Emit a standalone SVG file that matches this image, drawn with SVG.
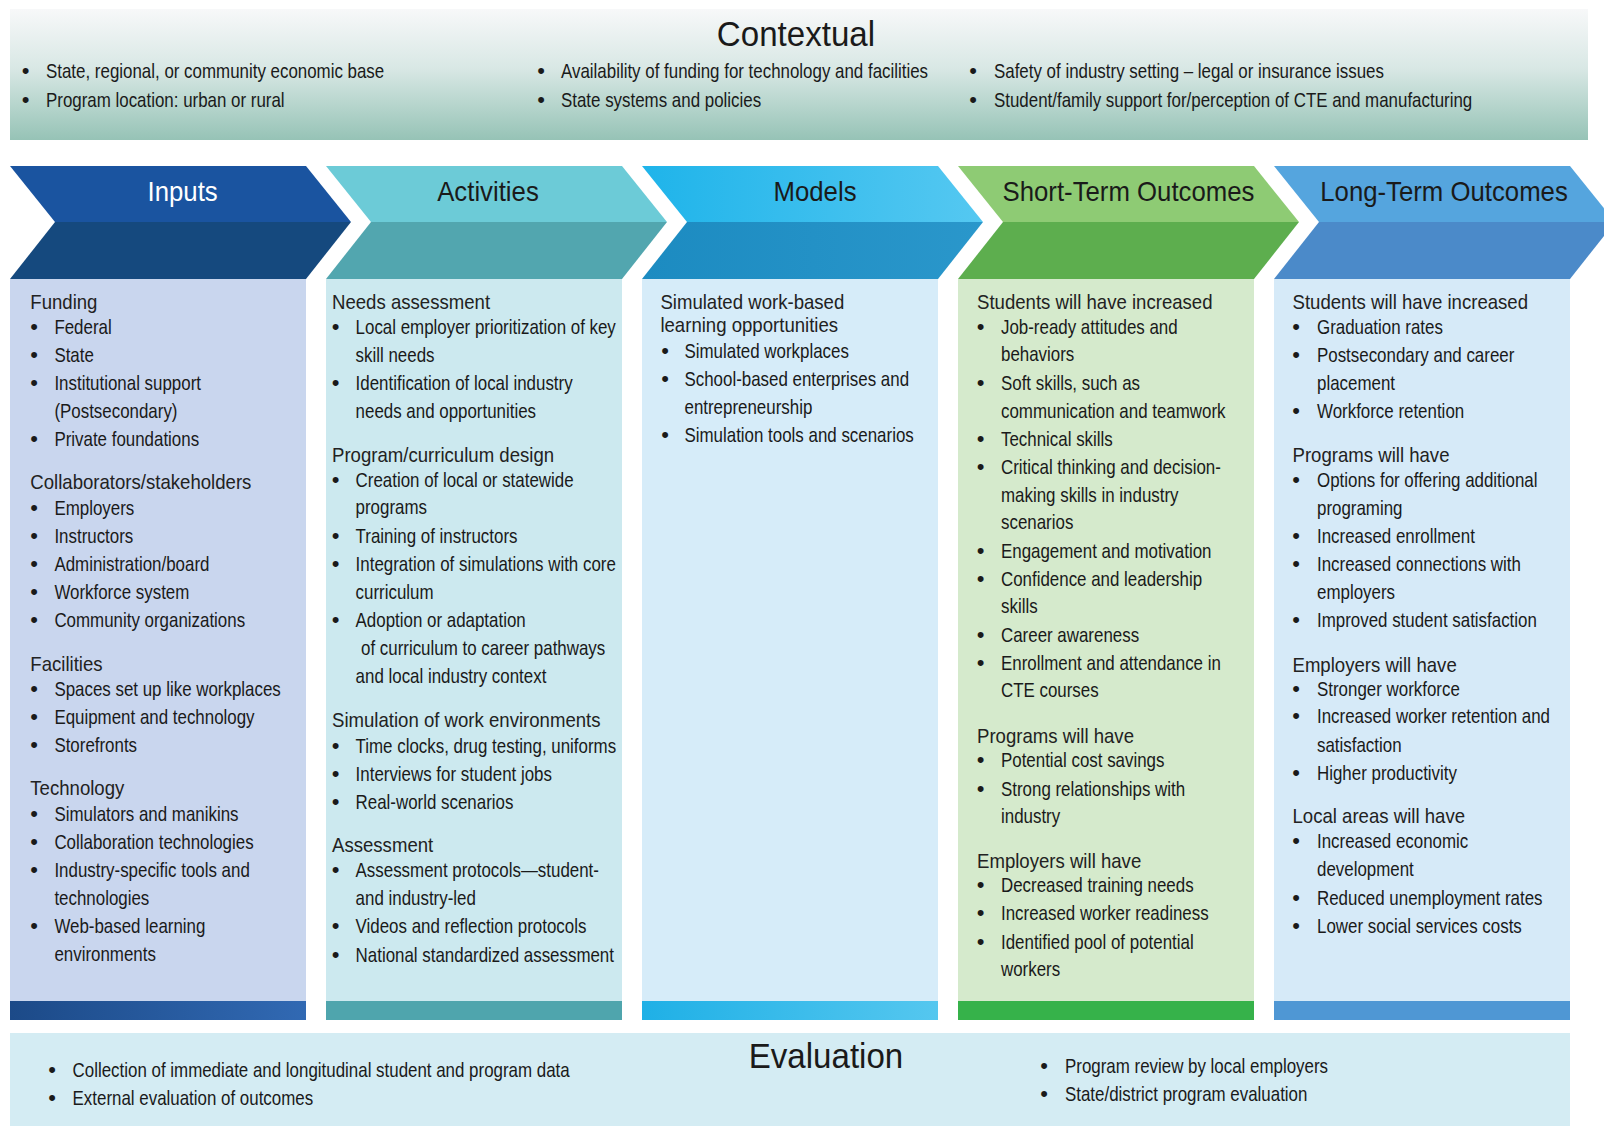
<svg xmlns="http://www.w3.org/2000/svg" width="1604" height="1126" viewBox="0 0 1604 1126">
<defs>
<linearGradient id="gCtx" x1="0" y1="0" x2="0" y2="1">
<stop offset="0" stop-color="#f7f8f9"/><stop offset="0.45" stop-color="#d9e8e5"/><stop offset="1" stop-color="#96c3b6"/>
</linearGradient>
<linearGradient id="gBarIn" x1="0" y1="0" x2="1" y2="0"><stop offset="0" stop-color="#1c4a88"/><stop offset="1" stop-color="#3169b3"/></linearGradient>
<linearGradient id="gBarMo" x1="0" y1="0" x2="1" y2="0"><stop offset="0" stop-color="#1fb0e6"/><stop offset="1" stop-color="#55c7ef"/></linearGradient>
<linearGradient id="gMoTop" x1="0" y1="0" x2="1" y2="0"><stop offset="0" stop-color="#1fb4ea"/><stop offset="1" stop-color="#55c8f1"/></linearGradient>
<linearGradient id="gMoBot" x1="0" y1="0" x2="1" y2="0"><stop offset="0" stop-color="#1c8bc1"/><stop offset="1" stop-color="#2a97cb"/></linearGradient>
</defs>
<style>
text{font-family:"Liberation Sans",Arial,sans-serif;fill:#1a1a1a}
.b text{font-size:20.5px}
.h text{font-size:20px;fill:#222}
.d text{font-size:22px;text-anchor:middle}
.ti{font-size:28px;text-anchor:middle}
.big{font-size:36px;text-anchor:middle}
</style>

<g id="contextual">
<rect x="10" y="9" width="1578" height="131" fill="url(#gCtx)"/>
<text class="big" transform="scale(0.92,1)" x="865.2" y="46">Contextual</text>
<g class="d"><text x="25.5" y="78">•</text><text x="25.5" y="107">•</text><text x="541" y="78">•</text><text x="541" y="107">•</text><text x="973" y="78">•</text><text x="973" y="107">•</text></g>
<g class="b" transform="scale(0.825,1)">
<text x="55.76" y="78">State, regional, or community economic base</text>
<text x="55.76" y="107">Program location: urban or rural</text>
<text x="680" y="78">Availability of funding for technology and facilities</text>
<text x="680" y="107">State systems and policies</text>
<text x="1204.85" y="78">Safety of industry setting – legal or insurance issues</text>
<text x="1204.85" y="107">Student/family support for/perception of CTE and manufacturing</text>
</g>
</g>

<g id="inputs">
<path d="M10,166 H306 L351,222 H55 Z" fill="#1a54a0"/>
<path d="M55,222 H351 L306,279 H10 Z" fill="#15497e"/>
<rect x="10" y="279" width="296" height="722" fill="#c9d6ee"/>
<rect x="10" y="1001" width="296" height="19" fill="url(#gBarIn)"/>
<text class="ti" transform="scale(0.92,1)" x="198.5" y="201" style="fill:#ffffff">Inputs</text>
<g class="h" transform="scale(0.93,1)">
<text x="32.58" y="309">Funding</text>
<text x="32.58" y="489">Collaborators/stakeholders</text>
<text x="32.58" y="671">Facilities</text>
<text x="32.58" y="795">Technology</text>
</g>
<g class="d"><text x="34" y="334">•</text><text x="34" y="362">•</text><text x="34" y="390">•</text><text x="34" y="446">•</text><text x="34" y="515">•</text><text x="34" y="543">•</text><text x="34" y="571">•</text><text x="34" y="599">•</text><text x="34" y="627">•</text><text x="34" y="696">•</text><text x="34" y="724">•</text><text x="34" y="752">•</text><text x="34" y="821">•</text><text x="34" y="849">•</text><text x="34" y="877">•</text><text x="34" y="933">•</text></g>
<g class="b" transform="scale(0.825,1)">
<text x="65.94" y="334">Federal</text>
<text x="65.94" y="362">State</text>
<text x="65.94" y="390">Institutional support</text>
<text x="65.94" y="418">(Postsecondary)</text>
<text x="65.94" y="446">Private foundations</text>
<text x="65.94" y="515">Employers</text>
<text x="65.94" y="543">Instructors</text>
<text x="65.94" y="571">Administration/board</text>
<text x="65.94" y="599">Workforce system</text>
<text x="65.94" y="627">Community organizations</text>
<text x="65.94" y="696">Spaces set up like workplaces</text>
<text x="65.94" y="724">Equipment and technology</text>
<text x="65.94" y="752">Storefronts</text>
<text x="65.94" y="821">Simulators and manikins</text>
<text x="65.94" y="849">Collaboration technologies</text>
<text x="65.94" y="877">Industry-specific tools and</text>
<text x="65.94" y="905">technologies</text>
<text x="65.94" y="933">Web-based learning</text>
<text x="65.94" y="961">environments</text>
</g>
</g>

<g id="activities">
<path d="M326,166 H622 L667,222 H371 Z" fill="#6ccbd7"/>
<path d="M371,222 H667 L622,279 H326 Z" fill="#52a6af"/>
<rect x="326" y="279" width="296" height="722" fill="#cce9ef"/>
<rect x="326" y="1001" width="296" height="19" fill="#4fa5ad"/>
<text class="ti" transform="scale(0.92,1)" x="530.4" y="201">Activities</text>
<g class="h" transform="scale(0.93,1)">
<text x="356.99" y="309">Needs assessment</text>
<text x="356.99" y="462">Program/curriculum design</text>
<text x="356.99" y="727">Simulation of work environments</text>
<text x="356.99" y="852">Assessment</text>
</g>
<g class="d"><text x="335.5" y="334">•</text><text x="335.5" y="390">•</text><text x="335.5" y="487">•</text><text x="335.5" y="543">•</text><text x="335.5" y="571">•</text><text x="335.5" y="627">•</text><text x="335.5" y="753">•</text><text x="335.5" y="781">•</text><text x="335.5" y="809">•</text><text x="335.5" y="877">•</text><text x="335.5" y="933">•</text><text x="335.5" y="962">•</text></g>
<g class="b" transform="scale(0.825,1)">
<text x="431.03" y="334">Local employer prioritization of key</text>
<text x="431.03" y="362">skill needs</text>
<text x="431.03" y="390">Identification of local industry</text>
<text x="431.03" y="418">needs and opportunities</text>
<text x="431.03" y="487">Creation of local or statewide</text>
<text x="431.03" y="514">programs</text>
<text x="431.03" y="543">Training of instructors</text>
<text x="431.03" y="571">Integration of simulations with core</text>
<text x="431.03" y="599">curriculum</text>
<text x="431.03" y="627">Adoption or adaptation</text>
<text x="437.58" y="655">of curriculum to career pathways</text>
<text x="431.03" y="683">and local industry context</text>
<text x="431.03" y="753">Time clocks, drug testing, uniforms</text>
<text x="431.03" y="781">Interviews for student jobs</text>
<text x="431.03" y="809">Real-world scenarios</text>
<text x="431.03" y="877">Assessment protocols—student-</text>
<text x="431.03" y="905">and industry-led</text>
<text x="431.03" y="933">Videos and reflection protocols</text>
<text x="431.03" y="962">National standardized assessment</text>
</g>
</g>

<g id="models">
<path d="M642,166 H938 L983,222 H687 Z" fill="url(#gMoTop)"/>
<path d="M687,222 H983 L938,279 H642 Z" fill="url(#gMoBot)"/>
<rect x="642" y="279" width="296" height="722" fill="#d6ecf9"/>
<rect x="642" y="1001" width="296" height="19" fill="url(#gBarMo)"/>
<text class="ti" transform="scale(0.92,1)" x="885.9" y="201">Models</text>
<g class="h" transform="scale(0.93,1)">
<text x="710.11" y="309">Simulated work-based</text>
<text x="710.11" y="332">learning opportunities</text>
</g>
<g class="d"><text x="665" y="358">•</text><text x="665" y="386">•</text><text x="665" y="442">•</text></g>
<g class="b" transform="scale(0.825,1)">
<text x="829.7" y="358">Simulated workplaces</text>
<text x="829.7" y="386">School-based enterprises and</text>
<text x="829.7" y="414">entrepreneurship</text>
<text x="829.7" y="442">Simulation tools and scenarios</text>
</g>
</g>

<g id="short-term">
<path d="M958,166 H1254 L1299,222 H1003 Z" fill="#8ecb74"/>
<path d="M1003,222 H1299 L1254,279 H958 Z" fill="#5dae4e"/>
<rect x="958" y="279" width="296" height="722" fill="#d5eacc"/>
<rect x="958" y="1001" width="296" height="19" fill="#36b24a"/>
<text class="ti" transform="scale(0.92,1)" x="1226.6" y="201">Short-Term Outcomes</text>
<g class="h" transform="scale(0.93,1)">
<text x="1050.54" y="309">Students will have increased</text>
<text x="1050.54" y="743">Programs will have</text>
<text x="1050.54" y="868">Employers will have</text>
</g>
<g class="d"><text x="980.5" y="334">•</text><text x="980.5" y="390">•</text><text x="980.5" y="446">•</text><text x="980.5" y="474">•</text><text x="980.5" y="558">•</text><text x="980.5" y="586">•</text><text x="980.5" y="642">•</text><text x="980.5" y="670">•</text><text x="980.5" y="767">•</text><text x="980.5" y="796">•</text><text x="980.5" y="892">•</text><text x="980.5" y="920">•</text><text x="980.5" y="949">•</text></g>
<g class="b" transform="scale(0.825,1)">
<text x="1213.33" y="334">Job-ready attitudes and</text>
<text x="1213.33" y="361">behaviors</text>
<text x="1213.33" y="390">Soft skills, such as</text>
<text x="1213.33" y="418">communication and teamwork</text>
<text x="1213.33" y="446">Technical skills</text>
<text x="1213.33" y="474">Critical thinking and decision-</text>
<text x="1213.33" y="502">making skills in industry</text>
<text x="1213.33" y="529">scenarios</text>
<text x="1213.33" y="558">Engagement and motivation</text>
<text x="1213.33" y="586">Confidence and leadership</text>
<text x="1213.33" y="613">skills</text>
<text x="1213.33" y="642">Career awareness</text>
<text x="1213.33" y="670">Enrollment and attendance in</text>
<text x="1213.33" y="697">CTE courses</text>
<text x="1213.33" y="767">Potential cost savings</text>
<text x="1213.33" y="796">Strong relationships with</text>
<text x="1213.33" y="823">industry</text>
<text x="1213.33" y="892">Decreased training needs</text>
<text x="1213.33" y="920">Increased worker readiness</text>
<text x="1213.33" y="949">Identified pool of potential</text>
<text x="1213.33" y="976">workers</text>
</g>
</g>

<g id="long-term">
<path d="M1274,166 H1570 L1615,222 H1319 Z" fill="#55a5de"/>
<path d="M1319,222 H1615 L1570,279 H1274 Z" fill="#4b8ac9"/>
<rect x="1274" y="279" width="296" height="722" fill="#d6eaf8"/>
<rect x="1274" y="1001" width="296" height="19" fill="#4f97d4"/>
<text class="ti" transform="scale(0.92,1)" x="1569.6" y="201">Long-Term Outcomes</text>
<g class="h" transform="scale(0.93,1)">
<text x="1389.78" y="309">Students will have increased</text>
<text x="1389.78" y="462">Programs will have</text>
<text x="1389.78" y="672">Employers will have</text>
<text x="1389.78" y="823">Local areas will have</text>
</g>
<g class="d"><text x="1296" y="334">•</text><text x="1296" y="362">•</text><text x="1296" y="418">•</text><text x="1296" y="487">•</text><text x="1296" y="543">•</text><text x="1296" y="571">•</text><text x="1296" y="627">•</text><text x="1296" y="696">•</text><text x="1296" y="723">•</text><text x="1296" y="780">•</text><text x="1296" y="848">•</text><text x="1296" y="905">•</text><text x="1296" y="933">•</text></g>
<g class="b" transform="scale(0.825,1)">
<text x="1596.36" y="334">Graduation rates</text>
<text x="1596.36" y="362">Postsecondary and career</text>
<text x="1596.36" y="390">placement</text>
<text x="1596.36" y="418">Workforce retention</text>
<text x="1596.36" y="487">Options for offering additional</text>
<text x="1596.36" y="515">programing</text>
<text x="1596.36" y="543">Increased enrollment</text>
<text x="1596.36" y="571">Increased connections with</text>
<text x="1596.36" y="599">employers</text>
<text x="1596.36" y="627">Improved student satisfaction</text>
<text x="1596.36" y="696">Stronger workforce</text>
<text x="1596.36" y="723">Increased worker retention and</text>
<text x="1596.36" y="752">satisfaction</text>
<text x="1596.36" y="780">Higher productivity</text>
<text x="1596.36" y="848">Increased economic</text>
<text x="1596.36" y="876">development</text>
<text x="1596.36" y="905">Reduced unemployment rates</text>
<text x="1596.36" y="933">Lower social services costs</text>
</g>
</g>

<g id="evaluation">
<rect x="10" y="1033" width="1560" height="93" fill="#d4ecf3"/>
<text class="big" transform="scale(0.92,1)" x="897.8" y="1068">Evaluation</text>
<g class="d"><text x="52" y="1077">•</text><text x="52" y="1105">•</text><text x="1044" y="1073">•</text><text x="1044" y="1101">•</text></g>
<g class="b" transform="scale(0.825,1)">
<text x="88" y="1077">Collection of immediate and longitudinal student and program data</text>
<text x="88" y="1105">External evaluation of outcomes</text>
<text x="1290.91" y="1073">Program review by local employers</text>
<text x="1290.91" y="1101">State/district program evaluation</text>
</g>
</g>

<g id="connectors"/>
</svg>
